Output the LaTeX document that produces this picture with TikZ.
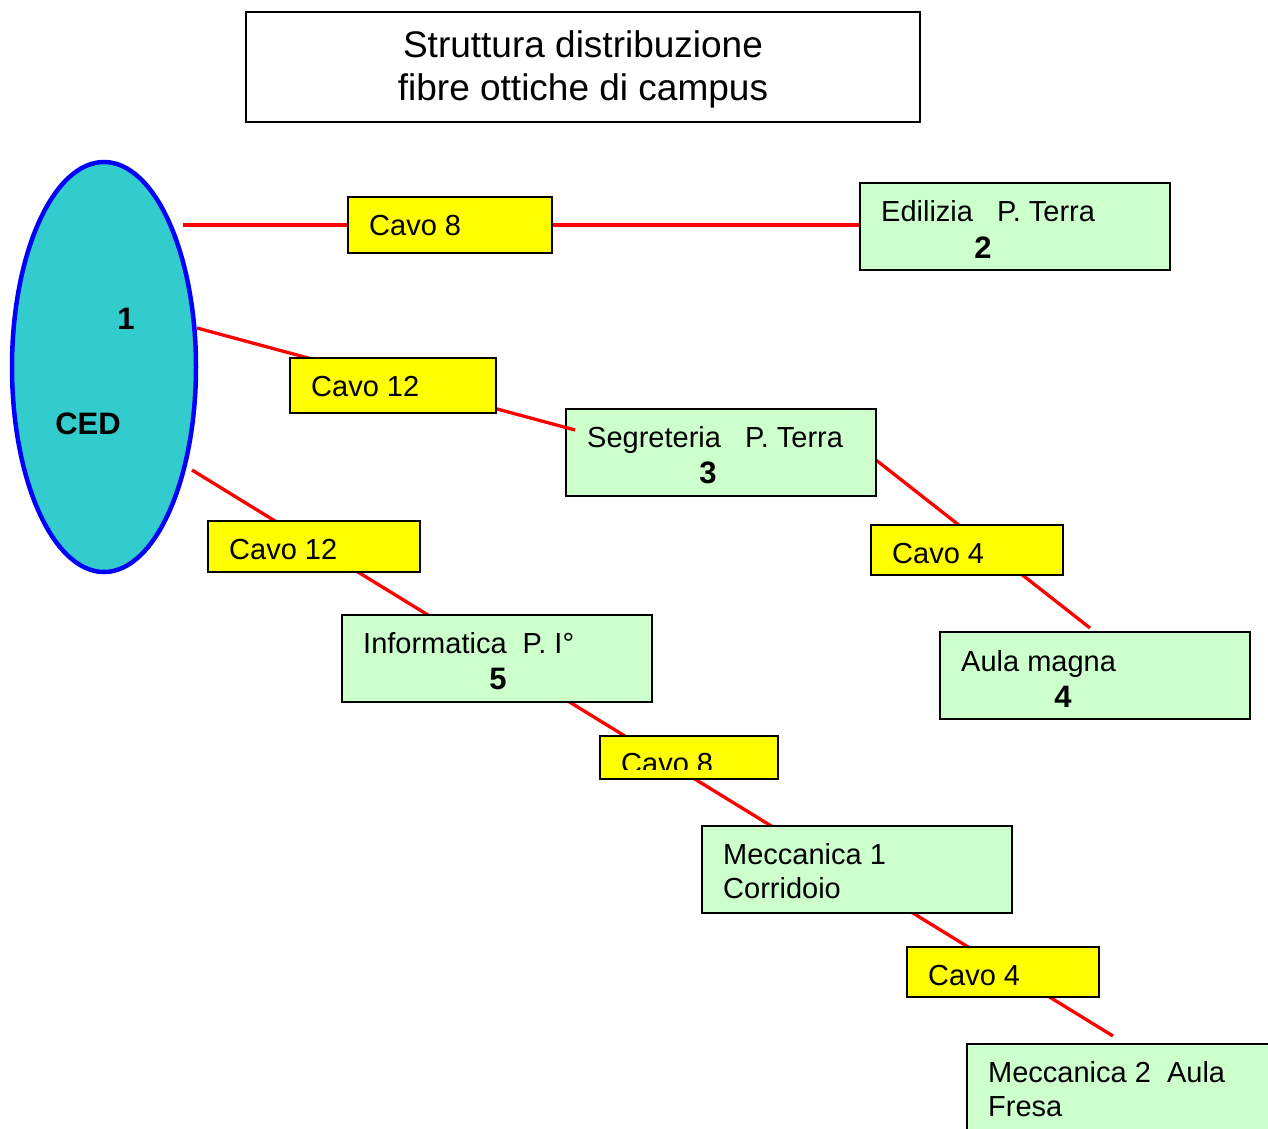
\documentclass[tikz,border=0pt]{standalone}
\usepackage{fontspec}
\setmainfont{Liberation Sans}
\usetikzlibrary{shapes.geometric}
\definecolor{boxgreen}{HTML}{CCFFCC}
\definecolor{cavoyellow}{HTML}{FFFF00}
\definecolor{cedfill}{HTML}{33CCCC}
\begin{document}
\begin{tikzpicture}[x=1pt,y=-1pt,
  frame/.style={draw=black, line width=1.5pt, rectangle, inner sep=0pt},
  box/.style={frame, fill=boxgreen},
  cavo/.style={frame, fill=cavoyellow},
  lbl/.style={anchor=base west, inner sep=0pt, font=\fontsize{29}{34}\selectfont},
  num/.style={anchor=base, inner sep=0pt, font=\fontsize{31}{34}\selectfont\bfseries},
  ttl/.style={anchor=base, inner sep=0pt, font=\fontsize{37}{43}\selectfont},
  cable/.style={draw=red, line width=3.3pt}]
\useasboundingbox (0,0) rectangle (1268,1128);
\clip (0,0) rectangle (1268,1128);

% title
\node[frame, fill=white, minimum width=674pt, minimum height=110pt] (title) at (583,67) {};
\node[ttl] (t1) at (583,57) {Struttura distribuzione};
\node[ttl] (t2) at (583,100) {fibre ottiche di campus};

% CED ellipse
\node[ellipse, draw=blue, line width=4.5pt, fill=cedfill, minimum width=184pt, minimum height=410pt, inner sep=0pt] (ced) at (104,367) {};
\node[num] (n1) at (126,329) {1};
\node[num] (ncd) at (88,434) {CED};

% cable end points
\coordinate (c1s) at (183,225);
\coordinate (c2s) at (197,328);
\coordinate (c2e) at (575,430);
\coordinate (c3s) at (876,460);
\coordinate (c3e) at (1090,628);
\coordinate (c4s) at (192,470);
\coordinate (c4e) at (1113,1036);

% long cable behind the green boxes
\draw[cable] (c4s) -- (c4e);
\draw[cable] (c3s) -- (c3e);

% green boxes
\node[box, minimum width=310pt, minimum height=87pt] (edil) at (1015,226.5) {};
\node[box, minimum width=310pt, minimum height=87pt] (segr) at (721,452.5) {};
\node[box, minimum width=310pt, minimum height=87pt] (aula) at (1095,675.5) {};
\node[box, minimum width=310pt, minimum height=87pt] (info) at (497,658.5) {};
\node[box, minimum width=310pt, minimum height=87pt] (mecc1) at (857,869.5) {};
\node[box, minimum width=310pt, minimum height=87pt] (mecc2) at (1122,1087.5) {};

% other cables
\draw[cable] (c1s) -- (c1s -| edil.west);
\draw[cable] (c2s) -- (c2e);

% yellow cable labels
\node[cavo, minimum width=204pt, minimum height=56pt] (cavoA) at (450,225) {};
\node[cavo, minimum width=206pt, minimum height=55pt] (cavoB) at (393,385.5) {};
\node[cavo, minimum width=192pt, minimum height=50pt] (cavoC) at (967,550) {};
\node[cavo, minimum width=212pt, minimum height=51pt] (cavoD) at (314,546.5) {};
\node[cavo, minimum width=178pt, minimum height=43pt] (cavoE) at (689,757.5) {};
\node[cavo, minimum width=192pt, minimum height=50pt] (cavoF) at (1003,972) {};

% texts
\node[lbl] (tA) at (369,235.5) {Cavo 8};
\node[lbl] (tB) at (311,396.5) {Cavo 12};
\node[lbl] (tC) at (892,563.5) {Cavo 4};
\node[lbl] (tD) at (229,559.5) {Cavo 12};
\begin{scope}
\clip (600,736) rectangle (778,769);
\node[lbl] (tE) at (621,773) {Cavo 8};
\end{scope}
\node[lbl] (tF) at (928,985.5) {Cavo 4};

\node[lbl] (te1) at (881,221.5) {Edilizia\ \ \ P. Terra};
\node[num] (te2) at (983,258) {2};
\node[lbl] (ts1) at (587,447.5) {Segreteria\ \ \ P. Terra};
\node[num] (ts2) at (708,483) {3};
\node[lbl] (ta1) at (961,671.5) {Aula magna};
\node[num] (ta2) at (1063,707) {4};
\node[lbl] (ti1) at (363,653.5) {Informatica\ \ P. I°};
\node[num] (ti2) at (498,689) {5};
\node[lbl] (tm1) at (723,864.5) {Meccanica 1};
\node[lbl] (tm2) at (723,898.5) {Corridoio};
\node[lbl] (tn1) at (988,1082.5) {Meccanica 2\ \ Aula};
\node[lbl] (tn2) at (988,1116.5) {Fresa};
\end{tikzpicture}
\end{document}
